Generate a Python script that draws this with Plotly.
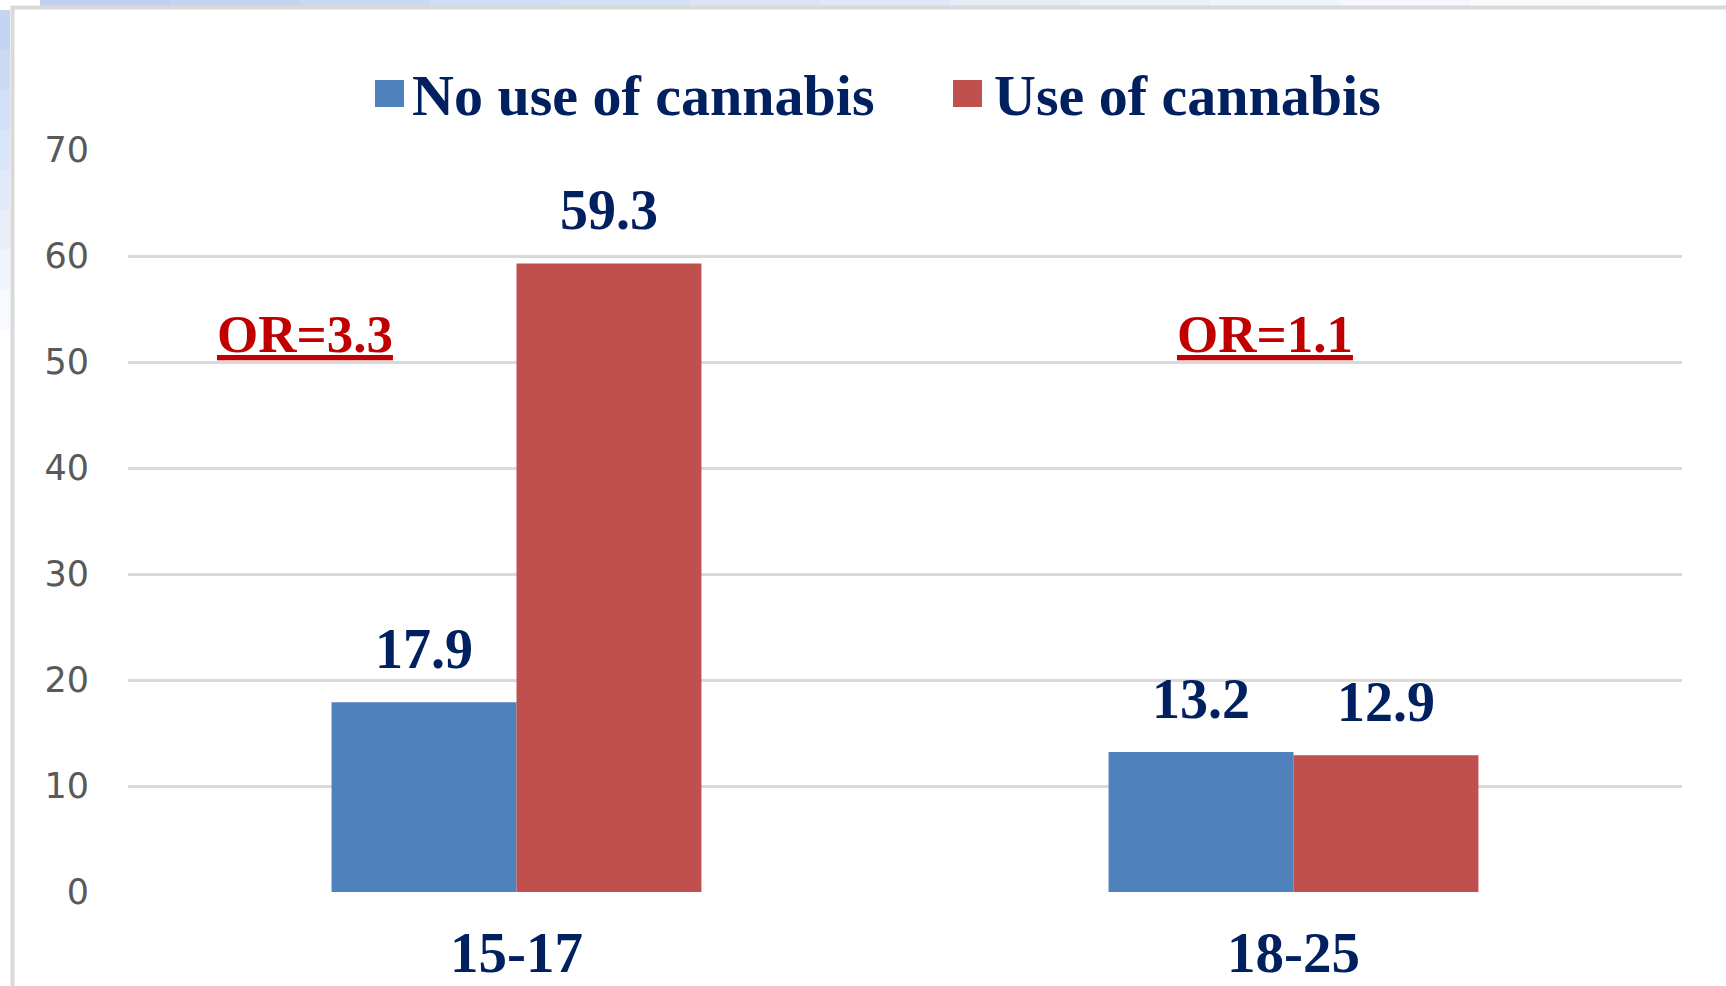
import plotly.graph_objects as go

# ---- data ----
categories = ["15-17", "18-25"]
series_names = ["No use of cannabis", "Use of cannabis"]
no_use = [17.9, 13.2]
use = [59.3, 12.9]
or_labels = ["OR=3.3", "OR=1.1"]
y_ticks = [0, 10, 20, 30, 40, 50, 60, 70]

# ---- geometry / style ----
W, H = 1726, 986
L, R, T, B = 128, 44, 150, 94
PW, PH = W - L - R, H - T - B


def xp(px):
    return (px - L) / PW


def yp(py):
    return (H - B - py) / PH


BLUE = "#4F81BD"
RED = "#C0504D"
NAVY = "#002060"
DARKRED = "#C00000"
GRID = "#D9D9D9"
SERIF = "Liberation Serif"
BARGAP = 0.524

series = [no_use, use]
colors = [BLUE, RED]

fig = go.Figure()
for name, vals, col in zip(series_names, series, colors):
    fig.add_bar(x=categories, y=vals, name=name,
                marker=dict(color=col, line=dict(width=0)))

annotations = []
half = (1 - BARGAP) / 4
for k, vals in enumerate(series):
    off = -half if k == 0 else half
    for i, v in enumerate(vals):
        annotations.append(dict(
            x=i + off, y=v, xref="x", yref="y", text=f"{v:.1f}",
            showarrow=False, yanchor="bottom", yshift=20,
            font=dict(family=SERIF, size=56, color=NAVY, weight="bold")))

# OR labels
for txt, xpix in zip(or_labels, [305, 1265]):
    annotations.append(dict(
        x=xp(xpix), y=yp(334), xref="paper", yref="paper",
        text=f"<u>{txt}</u>", showarrow=False, xanchor="center", yanchor="middle",
        font=dict(family=SERIF, size=53, color=DARKRED, weight="bold")))

# manual legend
shapes = []
for name, col, sq_x, tx in zip(series_names, colors, [375, 953], [410, 992]):
    shapes.append(dict(type="rect", xref="paper", yref="paper",
                       x0=xp(sq_x), x1=xp(sq_x + 29), y0=yp(107), y1=yp(80),
                       fillcolor=col, line=dict(width=0)))
    annotations.append(dict(
        x=xp(tx), y=yp(95), xref="paper", yref="paper", text=name,
        showarrow=False, xanchor="left", yanchor="middle",
        font=dict(family=SERIF, size=58, color=NAVY, weight="bold")))

# decorative background gradient (top-left) and frame
steps = 12
for s in range(steps):
    x0 = 40 + s * 130
    op = 0.85 * (1 - s / steps)
    shapes.append(dict(type="rect", xref="paper", yref="paper",
                       x0=xp(x0), x1=xp(x0 + 130), y0=yp(6), y1=yp(0),
                       fillcolor="#B4C8EC", opacity=op, line=dict(width=0)))
for s in range(8):
    y0 = 10 + s * 40
    op = 0.9 * (1 - s / 8)
    shapes.append(dict(type="rect", xref="paper", yref="paper",
                       x0=xp(0), x1=xp(10), y0=yp(y0 + 40), y1=yp(y0),
                       fillcolor="#BCD0F2", opacity=op, line=dict(width=0)))
shapes.append(dict(type="line", xref="paper", yref="paper",
                   x0=xp(12.5), x1=xp(12.5), y0=yp(7), y1=yp(H + 5),
                   line=dict(color=GRID, width=4)))
shapes.append(dict(type="line", xref="paper", yref="paper",
                   x0=xp(10.5), x1=xp(W + 5), y0=yp(7.5), y1=yp(7.5),
                   line=dict(color=GRID, width=4)))

fig.update_layout(
    width=W, height=H,
    margin=dict(l=L, r=R, t=T, b=B, pad=0, autoexpand=False),
    barmode="group", bargap=BARGAP, bargroupgap=0,
    showlegend=False,
    plot_bgcolor="white", paper_bgcolor="white",
    annotations=annotations, shapes=shapes,
    xaxis=dict(type="category", showgrid=False, showline=False, zeroline=False,
               ticks="", ticklabelstandoff=22, automargin=False,
               tickfont=dict(family=SERIF, size=57, color=NAVY, weight="bold")),
    yaxis=dict(range=[0, 70], tickvals=y_ticks, showgrid=True, gridcolor=GRID,
               gridwidth=3, zeroline=False, showline=False, ticks="",
               ticklabelstandoff=38, automargin=False,
               tickfont=dict(family="DejaVu Sans", size=35, color="#595959")),
)

fig.write_html("out.html")
